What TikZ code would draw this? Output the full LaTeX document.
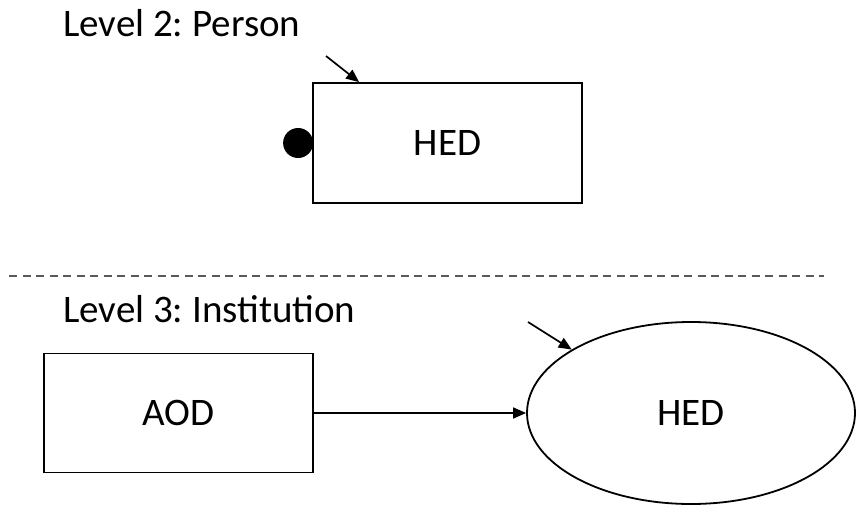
\documentclass[tikz,border=0pt]{standalone}
\usepackage{fontspec}
\setmainfont{Carlito}
\frenchspacing
\usetikzlibrary{arrows.meta,shapes.geometric}
\begin{document}
\begin{tikzpicture}[x=1pt,y=-1pt,
  txt/.style={font=\fontsize{39}{44}\selectfont},
  box/.style={draw,line width=1.8pt,minimum width=269pt,minimum height=120pt,txt,inner sep=0pt,text height=25pt,text depth=0pt},
  oval/.style={draw,ellipse,line width=1.8pt,minimum width=328pt,minimum height=182pt,txt,inner sep=0pt,text height=25pt,text depth=0pt},
  lbl/.style={anchor=base west,txt,inner sep=0pt},
  arr/.style={line width=1.7pt,-{Triangle[length=13pt,width=11pt]}}]
\useasboundingbox (0,0) rectangle (857,506);
\node[lbl] (l2) at (63,36) {Level 2: Person};
\node[box] (hed1) at (447.5,143) {HED};
\begin{scope}
\clip (0,0) rectangle (hed1.west |- 0,506);
\fill ([xshift=-14pt]hed1.west) circle [radius=15pt];
\end{scope}
\coordinate (e1) at (326,56);
\draw[arr] (e1) -- ([xshift=47pt]hed1.north west);
\draw[dash pattern=on 8pt off 5.5pt,line width=1.5pt,black!65] (9,276) -- (824,276);
\node[lbl] (l3) at (63,322) {Level 3: Institution};
\node[box,minimum height=119pt] (aod) at (178.5,413) {AOD};
\node[oval] (hed2) at (691,413) {HED};
\draw[arr] (aod.east) -- (hed2.west);
\coordinate (e2) at (528,322);
\draw[arr] (e2) -- (hed2.152);
\end{tikzpicture}
\end{document}
